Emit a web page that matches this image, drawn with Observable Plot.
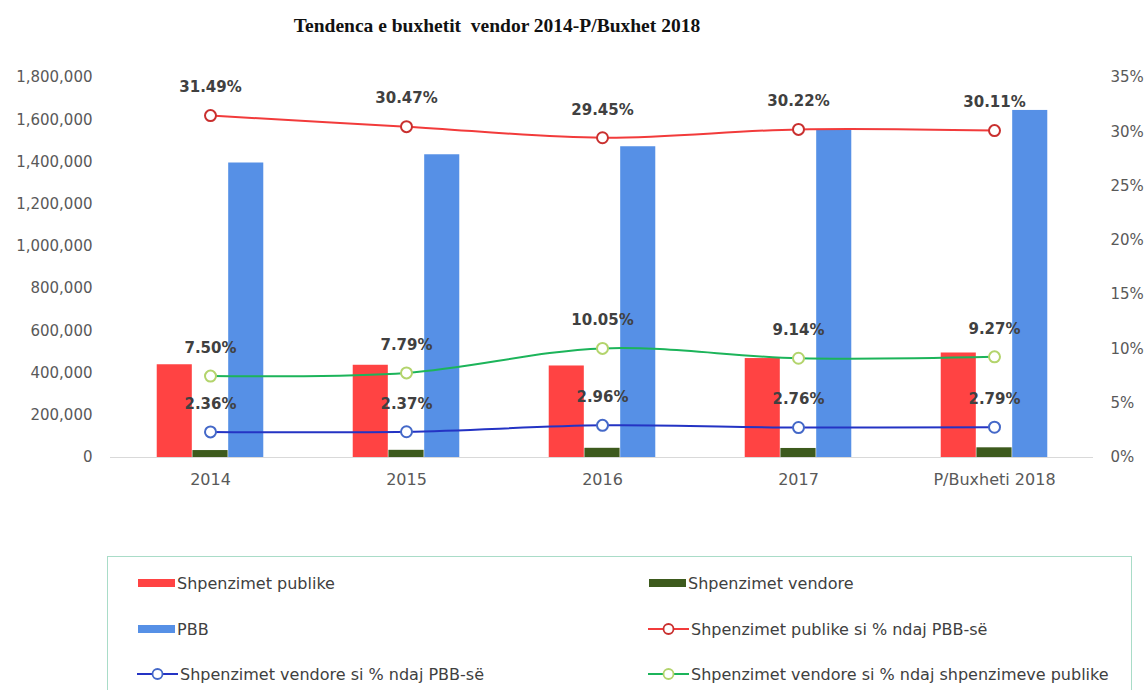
<!DOCTYPE html>
<html><head><meta charset="utf-8">
<script src="https://cdn.jsdelivr.net/npm/d3@7"></script>
<script src="https://cdn.jsdelivr.net/npm/@observablehq/plot@0.6"></script>
<style>
body{margin:0;background:#fff;width:1148px;height:690px;overflow:hidden;position:relative;font-family:"DejaVu Sans",sans-serif;}
#title{position:absolute;left:0;top:15px;width:994px;text-align:center;font-family:"Liberation Serif","Times New Roman",serif;font-weight:bold;font-size:19.5px;color:#111;}
#chart{position:absolute;left:0;top:60px;}
#legend{position:absolute;left:107px;top:556px;width:1025px;height:150px;border:1.5px solid #a9dcc8;box-sizing:border-box;}
.item{position:absolute;display:flex;align-items:center;font-size:16px;color:#404040;white-space:nowrap;}
.item svg{margin-right:2px;}
</style></head><body>
<div id="title">Tendenca e buxhetit&nbsp; vendor 2014-P/Buxhet 2018</div>
<div id="chart"></div>
<div id="legend"></div>
<script>
const categories = ["2014", "2015", "2016", "2017", "P/Buxheti 2018"];
const shpenzimetPublike = [439300, 436900, 433500, 468700, 495000];
const shpenzimetVendore = [32900, 34000, 43600, 42800, 45900];
const pbb = [1395000, 1434000, 1472000, 1551000, 1644000];
const publikePctPBB = [31.49, 30.47, 29.45, 30.22, 30.11];
const vendorePctPBB = [2.36, 2.37, 2.96, 2.76, 2.79];
const vendorePctPublike = [7.50, 7.79, 10.05, 9.14, 9.27];
const leftTicks = [0, 200000, 400000, 600000, 800000, 1000000, 1200000, 1400000, 1600000, 1800000];
const rightTicks = [0, 5, 10, 15, 20, 25, 30, 35];
const seriesNames = ["Shpenzimet publike", "Shpenzimet vendore", "PBB",
  "Shpenzimet publike si % ndaj PBB-së", "Shpenzimet vendore si % ndaj PBB-së",
  "Shpenzimet vendore si % ndaj shpenzimeve publike"];

const C = {red:"#ff4343", dkgreen:"#3d5a1d", blue:"#5690e6",
  redLine:"#f23b3b", redDot:"#c9302f", blueLine:"#2433c4", blueDot:"#4468c8",
  greenLine:"#1cb45a", greenDot:"#b3d46c"};

const W = 1148, H = 430, ml = 110, mr = 55, mt = 17, mb = 33;
const yMax = 1800000, pMax = 35, k = yMax / pMax;
const bw = (W - ml - mr) / categories.length;

const rows = categories.map((c, i) => ({c, pub: shpenzimetPublike[i], ven: shpenzimetVendore[i], pbb: pbb[i],
  p1: publikePctPBB[i], p2: vendorePctPBB[i], p3: vendorePctPublike[i]}));

const lineOf = (key, color) => Plot.line(rows, {x: "c", y: d => d[key] * k, stroke: color, strokeWidth: 2, curve: "catmull-rom"});
const dotOf = (key, color) => Plot.dot(rows, {x: "c", y: d => d[key] * k, r: 5.5, fill: "white", stroke: color, strokeWidth: 2});
const labelOf = key => Plot.text(rows, {x: "c", y: d => d[key] * k, text: d => d[key].toFixed(2) + "%", dy: -28,
  fontWeight: 700, fontSize: 15, fill: "#404040"});

const chart = Plot.plot({
  width: W, height: H, marginLeft: ml, marginRight: mr, marginTop: mt, marginBottom: mb,
  style: {fontFamily: "DejaVu Sans, sans-serif", fontSize: "15px", color: "#595959", background: "transparent"},
  x: {domain: categories, padding: 0, label: null},
  y: {domain: [0, yMax], label: null},
  marks: [
    Plot.ruleY([0], {stroke: "#d9d9d9"}),
    Plot.barY(rows, {x: "c", y: "pub", fill: C.red, insetLeft: bw * 0.2275, insetRight: bw * 0.591}),
    Plot.barY(rows, {x: "c", y: "ven", fill: C.dkgreen, insetLeft: bw * 0.409, insetRight: bw * 0.409}),
    Plot.barY(rows, {x: "c", y: "pbb", fill: C.blue, insetLeft: bw * 0.591, insetRight: bw * 0.2275}),
    lineOf("p1", C.redLine), lineOf("p3", C.greenLine), lineOf("p2", C.blueLine),
    dotOf("p1", C.redDot), dotOf("p3", C.greenDot), dotOf("p2", C.blueDot),
    labelOf("p1"), labelOf("p3"), labelOf("p2"),
    Plot.axisY(leftTicks, {anchor: "left", tickSize: 0, tickPadding: 18, tickFormat: d3.format(","), label: null}),
    Plot.axisY(rightTicks.map(t => t * k), {anchor: "right", tickSize: 0, tickPadding: 17, tickFormat: d => Math.round(d / k) + "%", label: null}),
    Plot.axisX({tickSize: 0, tickPadding: 16, fontSize: 16, label: null})
  ]
});
document.getElementById("chart").appendChild(chart);

// Legend
const legend = document.getElementById("legend");
const items = [
  {name: seriesNames[0], type: "bar", color: C.red, x: 30, y: 26},
  {name: seriesNames[1], type: "bar", color: C.dkgreen, x: 541, y: 26},
  {name: seriesNames[2], type: "bar", color: C.blue, x: 30, y: 72},
  {name: seriesNames[3], type: "line", color: C.redLine, dot: C.redDot, x: 540, y: 72},
  {name: seriesNames[4], type: "line", color: C.blueLine, dot: C.blueDot, x: 29, y: 117},
  {name: seriesNames[5], type: "line", color: C.greenLine, dot: C.greenDot, x: 540, y: 117}
];
for (const it of items) {
  const d = document.createElement("div");
  d.className = "item";
  d.style.left = it.x + "px";
  d.style.top = (it.y - 11) + "px";
  d.style.height = "22px";
  const sw = it.type === "bar"
    ? `<svg width="37" height="12"><rect x="0" y="2" width="37" height="8" fill="${it.color}"/></svg>`
    : `<svg width="41" height="14"><line x1="0" x2="41" y1="7" y2="7" stroke="${it.color}" stroke-width="2"/><circle cx="20.5" cy="7" r="5" fill="white" stroke="${it.dot}" stroke-width="1.8"/></svg>`;
  d.innerHTML = sw + `<span>${it.name}</span>`;
  legend.appendChild(d);
}
</script>
</body></html>
